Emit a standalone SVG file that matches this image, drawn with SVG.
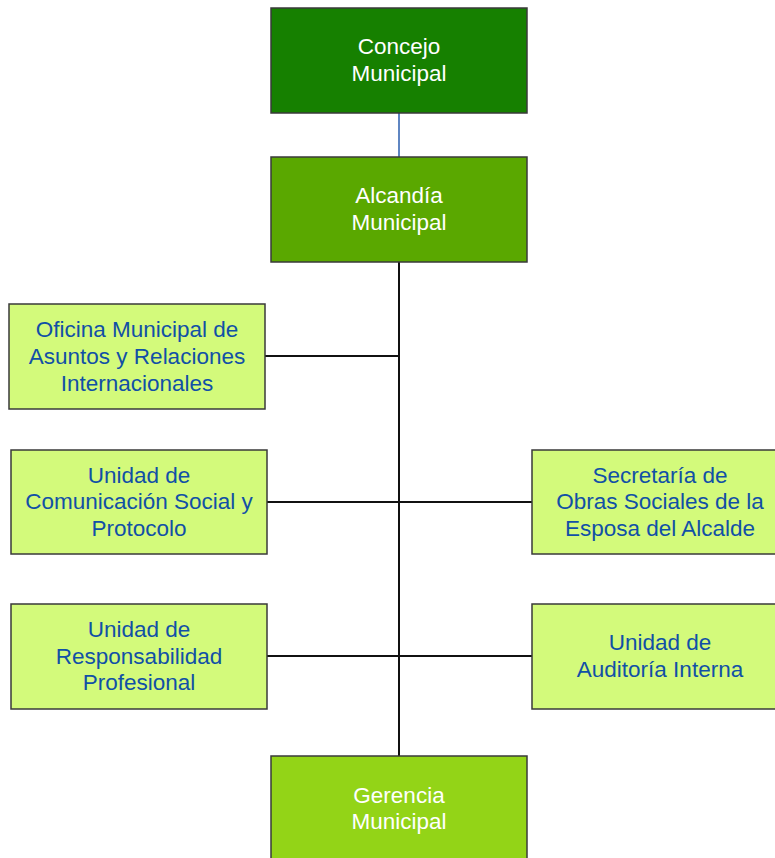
<svg xmlns="http://www.w3.org/2000/svg" width="775" height="858" viewBox="0 0 775 858">
<style>
.box{stroke:#3a3a3a;stroke-width:1.5}
.dark{fill:#168000}
.mid{fill:#5aa800}
.ger{fill:#93d417}
.light{fill:#d3fa7b}
text{font-family:"Liberation Sans",Arial,sans-serif;font-size:22.5px;text-anchor:middle}
.w{fill:#ffffff}
.b{fill:#1150a6}
.conn{stroke:#111;stroke-width:2;fill:none}
</style>
<rect width="775" height="858" fill="#ffffff"/>
<g id="connectors">
<line x1="399" y1="113" x2="399" y2="157" stroke="#5f86c2" stroke-width="2"/>
<line class="conn" x1="399" y1="262" x2="399" y2="756"/>
<line class="conn" x1="265" y1="356" x2="399" y2="356"/>
<line class="conn" x1="267" y1="502" x2="532" y2="502"/>
<line class="conn" x1="267" y1="656" x2="532" y2="656"/>
</g>
<g id="concejo">
<rect class="box dark" x="271" y="8" width="256" height="105"/>
<text class="w" x="399" y="54">Concejo</text>
<text class="w" x="399" y="81">Municipal</text>
</g>
<g id="alcaldia">
<rect class="box mid" x="271" y="157" width="256" height="105"/>
<text class="w" x="399" y="203">Alcandía</text>
<text class="w" x="399" y="230">Municipal</text>
</g>
<g id="oficina">
<rect class="box light" x="9" y="304" width="256" height="105"/>
<text class="b" x="137" y="337">Oficina Municipal de</text>
<text class="b" x="137" y="364">Asuntos y Relaciones</text>
<text class="b" x="137" y="391">Internacionales</text>
</g>
<g id="comunicacion">
<rect class="box light" x="11" y="450" width="256" height="104"/>
<text class="b" x="139" y="483">Unidad de</text>
<text class="b" x="139" y="509">Comunicación Social y</text>
<text class="b" x="139" y="536">Protocolo</text>
</g>
<g id="secretaria">
<rect class="box light" x="532" y="450" width="256" height="104"/>
<text class="b" x="660" y="483">Secretaría de</text>
<text class="b" x="660" y="509">Obras Sociales de la</text>
<text class="b" x="660" y="536">Esposa del Alcalde</text>
</g>
<g id="responsabilidad">
<rect class="box light" x="11" y="604" width="256" height="105"/>
<text class="b" x="139" y="637">Unidad de</text>
<text class="b" x="139" y="664">Responsabilidad</text>
<text class="b" x="139" y="690">Profesional</text>
</g>
<g id="auditoria">
<rect class="box light" x="532" y="604" width="256" height="105"/>
<text class="b" x="660" y="650">Unidad de</text>
<text class="b" x="660" y="677">Auditoría Interna</text>
</g>
<g id="gerencia">
<rect class="box ger" x="271" y="756" width="256" height="105"/>
<text class="w" x="399" y="803">Gerencia</text>
<text class="w" x="399" y="829">Municipal</text>
</g>
</svg>
